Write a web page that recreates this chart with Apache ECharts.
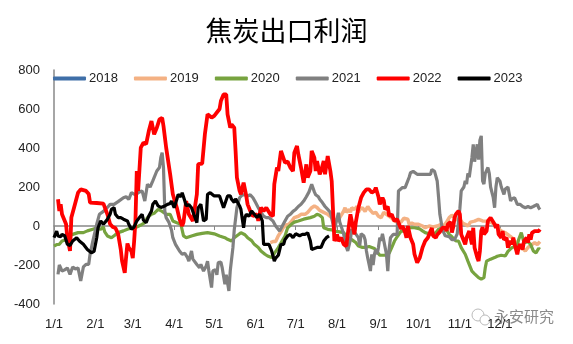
<!DOCTYPE html>
<html><head><meta charset="utf-8">
<script src="https://cdn.jsdelivr.net/npm/echarts@6/dist/echarts.min.js"></script>
<style>html,body{margin:0;padding:0;background:#fff}#c{width:573px;height:344px}</style>
</head><body><div id="c"></div>
<script>
// x categories: days of year (non-leap), label only on 1st of month
const monthDays = [31,28,31,30,31,30,31,31,30,31,30,31];
const cats = [];
monthDays.forEach((n, m) => { for (let d = 1; d <= n; d++) cats.push((m + 1) + '/' + d); });
const yTicks = [-400, -200, 0, 200, 400, 600, 800];
const seriesNames = ['2018','2019','2020','2021','2022','2023'];

// [dayIndex, value]
const s2018 = [];
const s2019 = [[162,-85],[164,-80],[166,-80],[168,-50],[170,-30],[172,-5],[174,5],[176,9],[178,25],[180,43],[183,50],[185,60],[188,60],[190,70],[193,94],[195,103],[197,95],[199,80],[202,70],[205,60],[208,43],[210,35],[212,26],[214,43],[217,77],[218,94],[219,70],[221,85],[222,70],[223,94],[225,85],[227,100],[228,70],[229,85],[231,94],[233,75],[235,100],[237,80],[239,65],[241,70],[243,50],[245,43],[247,70],[249,60],[251,50],[253,40],[255,26],[258,17],[260,20],[262,40],[263,43],[265,35],[266,9],[268,15],[270,9],[273,9],[276,0],[278,-9],[281,0],[284,-5],[287,0],[290,9],[292,0],[294,20],[296,43],[298,55],[300,45],[302,30],[304,35],[306,15],[308,9],[310,0],[312,20],[315,25],[318,34],[321,26],[324,25],[327,20],[330,9],[332,-5],[334,-20],[336,-30],[338,-34],[341,-50],[343,-60],[345,-77],[348,-95],[350,-110],[353,-128],[355,-110],[358,-95],[360,-86],[362,-95],[364,-80]];
const s2020 = [[0,-103],[2,-95],[4,-94],[6,-77],[9,-70],[11,-55],[14,-43],[18,-34],[22,-34],[25,-25],[29,-17],[32,-10],[35,-17],[37,-5],[38,-30],[40,-51],[43,-60],[45,-50],[48,-34],[52,-25],[55,-17],[58,-10],[62,-5],[65,5],[68,17],[70,43],[73,60],[75,65],[78,85],[81,75],[84,60],[87,60],[89,26],[92,17],[95,9],[97,-51],[99,-60],[103,-51],[107,-43],[111,-38],[115,-34],[120,-40],[124,-51],[128,-60],[130,-68],[133,-77],[135,-60],[138,-45],[140,-34],[143,-45],[145,-60],[148,-75],[150,-94],[153,-110],[155,-128],[158,-145],[160,-154],[163,-162],[165,-140],[168,-111],[171,-75],[173,-51],[175,-9],[178,10],[180,20],[183,26],[187,35],[192,43],[195,50],[197,60],[199,55],[201,43],[202,-9],[205,-17],[208,-20],[210,-26],[214,-30],[217,-34],[220,-60],[223,-70],[226,-85],[228,-103],[231,-110],[233,-110],[236,-105],[240,-115],[244,-150],[248,-150],[251,-140],[253,-110],[255,-77],[257,-55],[260,-26],[263,-26],[265,-9],[270,-9],[274,-15],[276,-25],[278,-34],[281,-40],[283,-43],[286,-35],[288,-17],[291,-9],[293,-9],[296,-43],[298,-55],[301,-77],[303,-77],[305,-111],[308,-145],[310,-180],[313,-231],[315,-245],[318,-265],[320,-273],[322,-265],[323,-214],[324,-180],[327,-170],[330,-162],[332,-155],[335,-150],[336,-160],[338,-154],[340,-130],[343,-111],[345,-105],[347,-100],[348,-70],[350,-34],[351,-60],[352,-85],[355,-80],[357,-95],[359,-128],[361,-138],[363,-115],[364,-120]];
const s2021 = [[3,-248],[4,-200],[5,-215],[6,-231],[8,-225],[10,-215],[12,-248],[14,-210],[16,-220],[18,-215],[20,-282],[22,-210],[24,-197],[26,-197],[27,-145],[29,-80],[32,9],[34,60],[37,75],[40,95],[42,111],[45,111],[48,125],[52,145],[54,150],[56,137],[58,171],[61,160],[64,175],[66,180],[68,128],[70,214],[72,200],[74,231],[75,240],[77,282],[79,300],[80,350],[81,376],[82,300],[83,77],[84,43],[86,20],[88,-20],[89,-60],[91,-94],[92,-94],[94,-128],[96,-145],[98,-140],[100,-162],[101,-180],[103,-128],[104,-170],[107,-197],[109,-214],[110,-197],[112,-231],[114,-205],[115,-180],[116,-231],[118,-316],[119,-230],[121,-225],[122,-250],[123,-188],[125,-185],[126,-215],[128,-299],[129,-250],[131,-333],[132,-230],[134,-111],[135,-20],[137,94],[138,120],[139,145],[141,160],[143,160],[145,154],[147,160],[149,145],[151,120],[153,94],[155,70],[157,50],[159,43],[161,43],[162,50],[164,26],[166,0],[169,-26],[171,0],[173,26],[175,50],[177,60],[179,75],[181,85],[183,100],[185,111],[187,128],[189,150],[191,175],[193,214],[194,222],[195,175],[196,160],[198,150],[199,137],[201,120],[203,100],[205,85],[207,70],[208,60],[209,9],[210,-20],[211,9],[213,68],[214,20],[216,-20],[217,-43],[218,-90],[220,-128],[222,-70],[223,-15],[224,-30],[226,-40],[228,-60],[229,-100],[230,-40],[232,-50],[233,-70],[234,-128],[235,-165],[236,-197],[237,-231],[238,-145],[239,-200],[240,-145],[241,-120],[242,-145],[243,-110],[244,-60],[245,-75],[246,-40],[247,-75],[249,-145],[250,-231],[251,-120],[252,-60],[254,-43],[255,-35],[257,-43],[258,180],[259,190],[261,197],[263,197],[264,215],[266,250],[267,273],[269,280],[272,265],[276,265],[280,265],[282,265],[283,290],[285,280],[287,231],[288,150],[289,60],[291,-20],[293,-50],[296,-55],[298,-70],[300,-70],[302,-40],[303,26],[304,90],[305,180],[307,200],[308,231],[309,215],[310,270],[311,250],[313,350],[314,419],[315,330],[317,419],[318,340],[319,440],[320,462],[321,231],[322,215],[323,270],[325,300],[326,270],[327,200],[329,145],[330,94],[331,200],[332,248],[334,230],[335,200],[337,162],[338,190],[340,200],[342,128],[343,140],[345,145],[347,111],[349,111],[351,100],[353,94],[355,100],[357,94],[359,100],[362,111],[363,94],[364,85]];
const s2022 = [[3,137],[4,77],[5,112],[6,60],[9,10],[10,-60],[12,-128],[13,43],[15,94],[18,171],[20,188],[24,180],[26,164],[27,120],[32,118],[37,115],[38,125],[40,60],[42,10],[44,-5],[46,-10],[48,-40],[50,-120],[51,-180],[53,-240],[54,-160],[55,-90],[56,-110],[57,-100],[58,-130],[59,-165],[60,-80],[61,26],[62,282],[63,180],[65,402],[66,395],[67,427],[69,420],[71,487],[73,538],[74,545],[75,470],[77,504],[79,547],[81,555],[82,513],[84,402],[87,265],[89,163],[92,94],[94,35],[96,0],[97,20],[99,128],[101,60],[104,26],[107,163],[108,317],[111,320],[113,470],[115,573],[118,556],[120,565],[124,600],[125,641],[127,675],[129,675],[130,573],[132,504],[133,520],[135,504],[136,385],[137,248],[139,180],[140,163],[142,222],[144,154],[145,111],[147,77],[149,51],[152,60],[153,26],[155,94],[157,77],[159,94],[162,60],[164,51],[165,215],[167,300],[168,282],[170,385],[171,375],[173,325],[175,330],[177,300],[179,282],[180,376],[182,410],[183,367],[185,300],[187,222],[188,230],[189,316],[190,248],[192,282],[193,385],[195,350],[196,282],[197,333],[199,265],[200,282],[202,333],[203,265],[205,359],[206,350],[207,282],[208,230],[210,-77],[212,-43],[213,-77],[215,-60],[217,-94],[219,-103],[220,-43],[222,60],[223,26],[225,-43],[226,17],[227,10],[228,94],[230,145],[232,171],[234,188],[236,188],[238,171],[240,180],[241,197],[243,150],[244,111],[246,145],[247,130],[248,85],[250,100],[251,51],[253,60],[254,40],[255,26],[257,35],[259,0],[260,-15],[261,0],[263,-34],[264,-60],[265,0],[267,-60],[268,-50],[269,-94],[270,-145],[272,-188],[274,-162],[276,-111],[278,-77],[280,-60],[282,-26],[283,-10],[284,-51],[286,-60],[287,-45],[288,-43],[289,-30],[291,-9],[293,-10],[294,-25],[295,9],[297,20],[298,-34],[299,-5],[300,43],[301,60],[303,77],[304,60],[305,-43],[306,-60],[308,-94],[309,-60],[311,-26],[312,-60],[313,-94],[314,-9],[315,-111],[317,-162],[318,-180],[319,-128],[320,-26],[321,-5],[322,-43],[324,-26],[325,26],[327,43],[328,35],[330,9],[331,-9],[332,9],[333,-43],[335,-60],[336,-26],[337,-70],[338,-77],[339,-60],[340,-111],[342,-77],[343,-94],[344,-60],[345,-94],[347,-145],[348,-111],[349,-94],[351,-120],[352,-77],[354,-60],[355,-85],[356,-43],[357,-70],[358,-35],[359,-45],[360,-26],[361,-35],[363,-26],[364,-17]];
const s2023 = [[0,-60],[1,-51],[2,-26],[3,-51],[5,-55],[6,-43],[8,-50],[9,-60],[10,-94],[12,-100],[14,-77],[17,-60],[19,-77],[22,-94],[25,-120],[28,-137],[30,-130],[32,-60],[33,-9],[35,26],[37,9],[40,34],[42,60],[43,85],[45,94],[46,60],[48,43],[50,43],[52,35],[55,26],[56,9],[58,-17],[60,-5],[62,26],[64,43],[66,60],[67,30],[69,17],[71,51],[73,77],[74,111],[76,128],[78,103],[80,95],[81,103],[83,103],[85,111],[87,115],[88,128],[90,94],[92,137],[93,162],[95,150],[96,171],[97,165],[98,128],[99,103],[101,110],[103,94],[107,17],[108,94],[110,111],[112,26],[114,35],[115,162],[117,171],[118,165],[120,154],[124,154],[125,150],[127,94],[128,90],[130,154],[132,154],[133,137],[135,120],[136,140],[137,128],[139,103],[140,85],[142,-9],[143,43],[144,60],[146,50],[148,77],[149,85],[150,60],[152,43],[154,60],[156,26],[157,-94],[159,-94],[161,-94],[163,-128],[165,-180],[166,-165],[168,-150],[170,-94],[172,-94],[173,-70],[175,-51],[177,-43],[179,-60],[181,-40],[182,-34],[184,-50],[186,-43],[188,-43],[190,-35],[192,-77],[193,-120],[195,-115],[197,-110],[198,-120],[200,-110],[202,-77],[203,-85],[204,-60],[206,-51]];

const allData = [s2018, s2019, s2020, s2021, s2022, s2023];
const colors = ['#3F6FA8', '#F4B183', '#77A33F', '#808080', '#FF0000', '#000000'];
const widths = [3.5, 3.5, 3.2, 3.2, 3.8, 3.2];

const isMonthStart = (i, v) => /\/1$/.test(v);
const chart = echarts.init(document.getElementById('c'), null, {renderer: 'canvas'});
chart.setOption({
  animation: false,
  backgroundColor: '#fff',
  title: {text: '焦炭出口利润', left: 'center', top: 12,
    textStyle: {fontSize: 27, fontWeight: 'normal', color: '#000', fontFamily: 'Noto Sans CJK SC'}},
  legend: {left: 48, top: 67, itemWidth: 33, itemHeight: 4, itemGap: 16, icon: 'roundRect',
    data: seriesNames, textStyle: {fontSize: 13, color: '#222', fontFamily: 'Liberation Sans', padding: [0,0,0,-2]}},
  grid: {left: 54, right: 33, top: 70, bottom: 40},
  xAxis: [
    {type: 'category', data: cats, boundaryGap: false, position: 'bottom',
     axisLine: {show: false, onZero: false}, axisTick: {show: false}, splitLine: {show: false},
     axisLabel: {interval: isMonthStart, margin: 14, fontSize: 13, color: '#222', fontFamily: 'Liberation Sans'}},
    {type: 'category', data: cats, boundaryGap: false, position: 'top',
     axisLine: {show: true, onZero: true, lineStyle: {color: '#888', width: 1.5}},
     axisTick: {show: true, interval: isMonthStart, length: 4, inside: true, lineStyle: {color: '#888'}},
     axisLabel: {show: false}, splitLine: {show: false}}
  ],
  yAxis: {type: 'value', min: yTicks[0], max: yTicks[yTicks.length - 1], interval: 200,
    axisLine: {show: true, lineStyle: {color: '#888', width: 1.5}}, axisTick: {show: false}, splitLine: {show: false},
    axisLabel: {margin: 14, fontSize: 13, color: '#222', fontFamily: 'Liberation Sans'}},
  graphic: [
    {type: 'circle', shape: {cx: 478, cy: 315, r: 6}, style: {fill: 'none', stroke: '#bbb', lineWidth: 1}},
    {type: 'circle', shape: {cx: 485, cy: 320, r: 5}, style: {fill: '#fff', stroke: '#bbb', lineWidth: 1}},
    {type: 'text', left: 494, top: 309, style: {text: '永安研究', fontSize: 15, fill: '#8a8a8a', fontFamily: 'Noto Sans CJK SC'}}
  ],
  series: seriesNames.map((n, i) => ({
    name: n, type: 'line', xAxisIndex: 0, showSymbol: false, symbol: 'none',
    color: colors[i], lineStyle: {width: widths[i], color: colors[i]},
    data: allData[i].map(p => [cats[p[0]], p[1]]),
    emphasis: {disabled: true}
  }))
});
</script></body></html>
